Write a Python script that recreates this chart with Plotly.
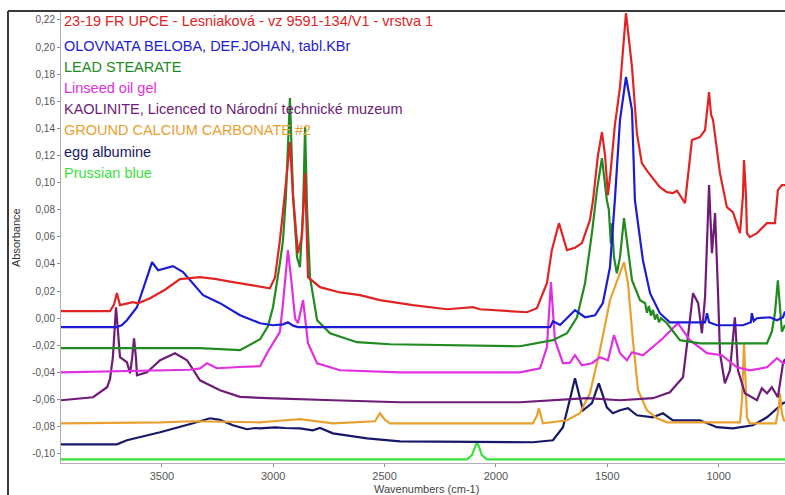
import plotly.graph_objects as go

# ---------------- data (wavenumber cm-1, absorbance) ----------------
series_names = [
    "23-19 FR UPCE - Lesniaková - vz 9591-134/V1 - vrstva 1",
    "OLOVNATA BELOBA, DEF.JOHAN, tabl.KBr",
    "LEAD STEARATE",
    "Linseed oil gel",
    "KAOLINITE, Licenced to Národní technické muzeum",
    "GROUND CALCIUM CARBONATE #2",
    "egg albumine",
    "Prussian blue",
]
series_colors = ["#e02424", "#1c1cd4", "#218a21", "#e030e0", "#6e1c78", "#e8a030", "#181868", "#3ce23c"]

red_wn = [3953, 3733, 3715, 3702, 3688, 3657, 3630, 3607, 3553, 3486, 3419, 3329, 3262, 3181, 3059, 3015, 2992, 2970, 2952, 2925, 2911, 2889, 2871, 2857, 2844, 2790, 2700, 2610, 2521, 2373, 2220, 2103, 2072, 1861, 1816, 1771, 1749, 1717, 1681, 1645, 1614, 1578, 1564, 1542, 1524, 1510, 1497, 1484, 1466, 1443, 1416, 1389, 1367, 1345, 1317, 1264, 1232, 1205, 1187, 1151, 1120, 1084, 1061, 1043, 1034, 1025, 994, 963, 936, 904, 891, 886, 877, 873, 860, 828, 783, 747, 734, 716, 702]
red_ab = [0.0052, 0.0052, 0.010, 0.0185, 0.0096, 0.011, 0.0118, 0.011, 0.0148, 0.021, 0.0288, 0.0303, 0.029, 0.0266, 0.0229, 0.0221, 0.030, 0.0576, 0.085, 0.1299, 0.09, 0.048, 0.06, 0.107, 0.0303, 0.0229, 0.019, 0.017, 0.0133, 0.0096, 0.0066, 0.0081, 0.0066, 0.0044, 0.0074, 0.0258, 0.0502, 0.0701, 0.0502, 0.052, 0.0554, 0.0723, 0.0871, 0.12, 0.1373, 0.12, 0.0908, 0.11, 0.1424, 0.17, 0.2251, 0.1852, 0.1365, 0.1144, 0.1077, 0.0967, 0.093, 0.0923, 0.094, 0.0849, 0.1314, 0.1336, 0.1387, 0.1668, 0.150, 0.1461, 0.107, 0.0819, 0.0782, 0.0627, 0.09, 0.1166, 0.09, 0.0627, 0.0598, 0.0627, 0.0701, 0.0701, 0.0945, 0.0982, 0.0982]

blue_wn = [3953, 3702, 3679, 3657, 3612, 3576, 3544, 3517, 3486, 3450, 3405, 3360, 3315, 3239, 3149, 3059, 3001, 2956, 2934, 2911, 2889, 1757, 1744, 1712, 1645, 1600, 1555, 1520, 1488, 1466, 1443, 1416, 1389, 1376, 1340, 1308, 1264, 1219, 1061, 1052, 1043, 1008, 891, 855, 851, 842, 828, 770, 738, 711, 702]
blue_ab = [-0.0066, -0.0066, -0.005, -0.0015, 0.0081, 0.0258, 0.0413, 0.0354, 0.037, 0.0384, 0.034, 0.0258, 0.017, 0.0111, 0.0022, -0.0037, -0.0052, -0.0045, -0.003, -0.0055, -0.0066, -0.0066, -0.0022, -0.005, 0.0059, 0.0007, 0.0022, 0.0111, 0.0376, 0.0871, 0.1461, 0.1779, 0.1535, 0.0871, 0.0428, 0.0185, 0.0037, -0.003, -0.003, 0.0037, -0.003, -0.0052, -0.0052, -0.003, 0.0037, -0.002, 0.0, 0.0007, -0.0015, 0.0007, 0.005]

green_wn = [3953, 3778, 3329, 3149, 3059, 3024, 3001, 2970, 2956, 2943, 2925, 2911, 2893, 2880, 2866, 2857, 2848, 2835, 2803, 2745, 2624, 2476, 2206, 1892, 1744, 1681, 1636, 1600, 1569, 1546, 1524, 1502, 1493, 1484, 1479, 1470, 1457, 1443, 1425, 1407, 1389, 1353, 1330, 1322, 1313, 1304, 1295, 1286, 1277, 1268, 1259, 1232, 1174, 1084, 783, 761, 747, 734, 725, 716, 702]
green_ab = [-0.0221, -0.022, -0.0221, -0.0236, -0.0155, -0.006, 0.0081, 0.0406, 0.0576, 0.09, 0.1624, 0.09, 0.045, 0.0376, 0.08, 0.141, 0.08, 0.0303, -0.0015, -0.0111, -0.0177, -0.0192, -0.0199, -0.0207, -0.0162, -0.0111, 0.0007, 0.0258, 0.0627, 0.095, 0.1181, 0.0871, 0.08, 0.055, 0.07, 0.045, 0.0332, 0.045, 0.0738, 0.0524, 0.028, 0.0133, 0.011, 0.004, 0.009, 0.002, 0.006, -0.001, 0.003, -0.003, 0.0, -0.0037, -0.0162, -0.0185, -0.0185, -0.01, 0.004, 0.028, 0.01, -0.01, -0.005]

mag_wn = [3953, 3374, 3329, 3297, 3275, 3253, 3149, 3059, 3028, 3001, 2970, 2956, 2934, 2920, 2902, 2889, 2866, 2844, 2803, 2700, 2431, 1892, 1802, 1771, 1753, 1735, 1699, 1668, 1645, 1614, 1569, 1533, 1497, 1470, 1443, 1412, 1389, 1340, 1295, 1250, 1183, 1129, 1052, 985, 918, 860, 783, 738, 711, 702]
mag_ab = [-0.0399, -0.038, -0.037, -0.0332, -0.035, -0.0369, -0.036, -0.0354, -0.0258, -0.0185, -0.01, 0.0111, 0.0502, 0.03, 0.0, -0.0037, 0.0133, -0.0185, -0.0332, -0.0384, -0.0399, -0.0399, -0.0369, -0.0214, 0.0266, -0.0162, -0.0332, -0.033, -0.0273, -0.0347, -0.0332, -0.0288, -0.031, -0.0125, -0.0258, -0.031, -0.0251, -0.0273, -0.0214, -0.0148, -0.0037, -0.0162, -0.0258, -0.0273, -0.0362, -0.0384, -0.0362, -0.0295, -0.0332, -0.033]

kao_wn = [3953, 3809, 3746, 3733, 3720, 3706, 3697, 3688, 3657, 3643, 3634, 3625, 3616, 3612, 3567, 3508, 3441, 3387, 3329, 3239, 3149, 3028, 2732, 2431, 1892, 1591, 1443, 1295, 1219, 1160, 1138, 1115, 1092, 1075, 1061, 1043, 1030, 1016, 1003, 994, 972, 949, 927, 913, 882, 828, 806, 783, 761, 734, 711, 702]
kao_ab = [-0.0605, -0.0583, -0.0509, -0.045, -0.0288, 0.0081, -0.01, -0.0288, -0.0325, -0.0406, -0.03, -0.0148, -0.03, -0.0421, -0.0399, -0.031, -0.0258, -0.031, -0.0458, -0.0531, -0.058, -0.059, -0.0605, -0.062, -0.062, -0.059, -0.0605, -0.059, -0.0546, -0.0435, -0.014, 0.0185, 0.0111, -0.0111, 0.0155, 0.0982, 0.048, 0.0775, 0.02, -0.0258, -0.048, -0.0384, 0.0007, -0.0384, -0.0554, -0.0605, -0.0517, -0.0554, -0.0509, -0.0583, -0.0332, -0.03]

caco_wn = [3953, 3508, 3360, 3059, 3001, 2880, 2732, 2543, 2521, 2498, 2476, 1834, 1816, 1807, 1798, 1789, 1681, 1623, 1578, 1533, 1488, 1425, 1407, 1385, 1362, 1322, 1277, 1232, 904, 895, 886, 882, 873, 860, 743, 729, 725, 716, 707, 702]
caco_ab = [-0.0775, -0.0768, -0.076, -0.0768, -0.076, -0.0745, -0.0775, -0.076, -0.0701, -0.075, -0.0775, -0.0775, -0.072, -0.0664, -0.072, -0.0775, -0.0753, -0.0701, -0.0554, -0.0236, 0.0133, 0.0413, 0.0258, -0.0162, -0.0531, -0.0679, -0.0738, -0.0768, -0.0768, -0.06, -0.0185, -0.04, -0.0731, -0.0775, -0.0775, -0.065, -0.0554, -0.07, -0.0753, -0.076]

egg_wn = [3953, 3702, 3657, 3508, 3360, 3284, 3239, 3181, 3118, 3082, 3059, 2992, 2947, 2880, 2822, 2790, 2732, 2579, 2431, 1834, 1744, 1699, 1668, 1645, 1609, 1569, 1538, 1502, 1475, 1443, 1407, 1367, 1295, 1250, 1205, 1084, 1008, 936, 846, 783, 711, 702]
egg_ab = [-0.093, -0.093, -0.09, -0.0841, -0.0775, -0.0738, -0.075, -0.079, -0.0819, -0.081, -0.0812, -0.0805, -0.081, -0.0812, -0.0827, -0.081, -0.0849, -0.0886, -0.0908, -0.0915, -0.090, -0.0804, -0.06, -0.0443, -0.0679, -0.0627, -0.048, -0.0657, -0.0701, -0.0679, -0.0664, -0.0716, -0.0731, -0.0701, -0.0753, -0.0753, -0.0804, -0.0812, -0.079, -0.0731, -0.0627, -0.062]

pb_wn = [3953, 2130, 2108, 2094, 2085, 2076, 2063, 2040, 702]
pb_ab = [-0.1041, -0.1041, -0.101, -0.095, -0.0915, -0.095, -0.101, -0.1041, -0.1041]

all_wn = [red_wn, blue_wn, green_wn, mag_wn, kao_wn, caco_wn, egg_wn, pb_wn]
all_ab = [red_ab, blue_ab, green_ab, mag_ab, kao_ab, caco_ab, egg_ab, pb_ab]

x_tick_vals = [3500, 3000, 2500, 2000, 1500, 1000]
x_tick_text = ["3500", "3000", "2500", "2000", "1500", "1000"]
y_tick_vals = [0.22, 0.20, 0.18, 0.16, 0.14, 0.12, 0.10, 0.08, 0.06, 0.04, 0.02, 0.0,
               -0.02, -0.04, -0.06, -0.08, -0.10]
y_tick_text = ["0,22", "0,20", "0,18", "0,16", "0,14", "0,12", "0,10", "0,08", "0,06", "0,04",
               "0,02", "0,00", "-0,02", "-0,04", "-0,06", "-0,08", "-0,10"]

x_title = "Wavenumbers (cm-1)"
y_title = "Absorbance"

# ---------------- figure ----------------
fig = go.Figure()
# draw from bottom of list upward so that red ends on top
for i in reversed(range(len(series_names))):
    fig.add_trace(go.Scatter(
        x=all_wn[i], y=all_ab[i], mode="lines", name=series_names[i],
        line=dict(color=series_colors[i], width=2.2), hoverinfo="skip", showlegend=False,
    ))

W, H = 785, 495
ml, mr, mt, mb = 61, 0, 11, 32
pw, ph = W - ml - mr, H - mt - mb

def px(x):
    return (x - ml) / pw

def py(y):
    return (H - mb - y) / ph

annotations = []
label_y = [21, 46, 67, 88, 109, 130, 152, 173]
for name, col, yc in zip(series_names, series_colors, label_y):
    annotations.append(dict(
        text=name, xref="paper", yref="paper", x=px(62), y=py(yc),
        xanchor="left", yanchor="middle", showarrow=False,
        font=dict(family="Arial, Liberation Sans, sans-serif", size=14.5, color=col),
    ))
annotations.append(dict(
    text=x_title, xref="paper", yref="paper", x=px(426), y=py(489),
    xanchor="center", yanchor="middle", showarrow=False,
    font=dict(family="Arial, Liberation Sans, sans-serif", size=11, color="#444444"),
))
annotations.append(dict(
    text=y_title, xref="paper", yref="paper", x=px(16), y=py(238),
    xanchor="center", yanchor="middle", showarrow=False, textangle=-90,
    font=dict(family="Arial, Liberation Sans, sans-serif", size=11, color="#333333"),
))

shapes = [
    dict(type="line", xref="paper", yref="paper", x0=px(8), x1=px(790), y0=py(11), y1=py(11),
         line=dict(color="#3a3a3a", width=2)),
    dict(type="line", xref="paper", yref="paper", x0=px(8), x1=px(8), y0=py(11), y1=py(500),
         line=dict(color="#3a3a3a", width=2)),
]

fig.update_layout(
    width=W, height=H,
    margin=dict(l=ml, r=mr, t=mt, b=mb, pad=0),
    paper_bgcolor="white", plot_bgcolor="white",
    showlegend=False,
    annotations=annotations, shapes=shapes,
    font=dict(family="Arial, Liberation Sans, sans-serif"),
    xaxis=dict(
        range=[3953, 702], autorange=False, showgrid=False, zeroline=False,
        showline=True, linecolor="#b0b0b0", linewidth=1,
        ticks="outside", ticklen=3, tickcolor="#909090",
        tickvals=x_tick_vals, ticktext=x_tick_text,
        tickfont=dict(size=11, color="#555555"),
    ),
    yaxis=dict(
        range=[-0.1068, 0.2266], autorange=False, showgrid=False, zeroline=False,
        showline=True, linecolor="#b0b0b0", linewidth=1,
        ticks="outside", ticklen=3, tickcolor="#909090",
        tickvals=y_tick_vals, ticktext=y_tick_text,
        tickfont=dict(size=10, color="#555555"),
    ),
)

fig.write_html(
    "out.html",
    config=dict(displayModeBar=False),
    post_script="document.body.style.margin='0';document.body.style.overflow='hidden';",
)
